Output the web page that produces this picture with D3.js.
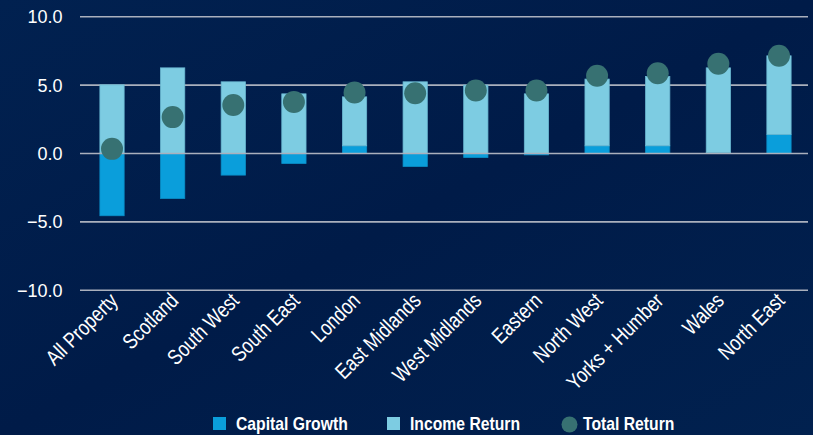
<!DOCTYPE html>
<html><head><meta charset="utf-8">
<script src="https://cdn.jsdelivr.net/npm/d3@7"></script>
<style>
html,body{margin:0;padding:0;background:#011d4b;}
svg{display:block;}
</style></head>
<body>
<svg id="chart" width="813" height="435"></svg>
<script>
const categories = ["All Property","Scotland","South West","South East","London","East Midlands","West Midlands","Eastern","North West","Yorks + Humber","Wales","North East"];
const capitalGrowth = [-4.55,-3.29,-1.58,-0.73,0.56,-0.95,-0.29,-0.10,0.56,0.56,0.05,1.39];
const incomeReturn = [5.02,6.26,5.24,4.36,3.58,5.24,5.00,4.36,4.88,5.07,6.21,5.75];
const totalReturn = [0.34,2.66,3.54,3.76,4.46,4.41,4.60,4.60,5.68,5.87,6.56,7.14];
const yTicks = [-10,-5,0,5,10];
const seriesNames = ["Capital Growth","Income Return","Total Return"];

const colors = {cap:"#0a9edb", inc:"#7dcce2", tot:"#377172"};
const svg = d3.select("#chart");
const W = 813, H = 435;

// background
const defs = svg.append("defs");
const lg = defs.append("linearGradient").attr("id","bg").attr("x1","0").attr("y1","0").attr("x2","1").attr("y2","1");
lg.append("stop").attr("offset","0").attr("stop-color","#012150");
lg.append("stop").attr("offset","0.5").attr("stop-color","#001b48");
lg.append("stop").attr("offset","1").attr("stop-color","#01214f");
svg.append("rect").attr("width",W).attr("height",H).attr("fill","url(#bg)");

const x = d3.scaleBand().domain(categories).range([81.7, 809.3]).paddingInner(0.6).paddingOuter(0.3);
const y = d3.scaleLinear().domain([-10,10]).range([290.3, 16.7]);

const fontSans = "'Liberation Sans',Arial,sans-serif";

// gridlines
svg.append("g").selectAll("line").data(yTicks.filter(t=>t!==0)).join("line")
  .attr("x1",80).attr("x2",808).attr("y1",d=>y(d)).attr("y2",d=>y(d))
  .attr("stroke","#aab0bd").attr("stroke-width",1.6);

// y labels
svg.append("g").selectAll("text").data(yTicks).join("text")
  .attr("x",62.5).attr("y",d=>y(d)+6.5).attr("text-anchor","end")
  .attr("fill","#ffffff").attr("font-family",fontSans).attr("font-size",18)
  .text(d=>d3.format(".1f")(d));

// stacked data (diverging)
const rows = categories.map((c,i)=>({cat:c, cap:capitalGrowth[i], inc:incomeReturn[i]}));
const stack = d3.stack().keys(["cap","inc"]).offset(d3.stackOffsetDiverging);
const stacked = stack(rows);
const g = svg.append("g");
stacked.forEach(layer=>{
  g.selectAll(null).data(layer).join("rect")
    .attr("x",d=>x(d.data.cat))
    .attr("width",x.bandwidth())
    .attr("y",d=>y(Math.max(d[0],d[1])))
    .attr("height",d=>Math.abs(y(d[0])-y(d[1])))
    .attr("fill",layer.key==="cap"?colors.cap:colors.inc)
    .attr("stroke",layer.key==="cap"?"#0a8fc8":"#6ab8d2")
    .attr("stroke-width",0.8);
});

// zero line
svg.append("line").attr("x1",80).attr("x2",808).attr("y1",y(0)).attr("y2",y(0))
  .attr("stroke","#aab0bd").attr("stroke-width",1.6);

// total dots
svg.append("g").selectAll("circle").data(categories).join("circle")
  .attr("cx",d=>x(d)+x.bandwidth()/2)
  .attr("cy",(d,i)=>y(totalReturn[i]))
  .attr("r",11)
  .attr("fill",colors.tot);

// x labels (condensed via horizontal scale along baseline)
svg.append("g").selectAll("text").data(categories).join("text")
  .attr("transform",d=>`translate(${x(d)+x.bandwidth()/2+7},${302}) rotate(-45) scale(0.82,1)`)
  .attr("text-anchor","end")
  .attr("fill","#ffffff").attr("font-family",fontSans).attr("font-size",21.5)
  .text(d=>d);

// legend
const leg = svg.append("g").attr("font-family",fontSans).attr("font-weight","bold").attr("font-size",18.5).attr("fill","#ffffff");
leg.append("rect").attr("x",213).attr("y",417).attr("width",13).attr("height",13).attr("fill",colors.cap);
leg.append("text").attr("transform","translate(236,430) scale(0.85,1)").text(seriesNames[0]);
leg.append("rect").attr("x",387).attr("y",417).attr("width",13).attr("height",13).attr("fill",colors.inc);
leg.append("text").attr("transform","translate(410,430) scale(0.85,1)").text(seriesNames[1]);
leg.append("circle").attr("cx",569.5).attr("cy",424.5).attr("r",8).attr("fill",colors.tot);
leg.append("text").attr("transform","translate(583,430) scale(0.85,1)").text(seriesNames[2]);
</script>
</body></html>
